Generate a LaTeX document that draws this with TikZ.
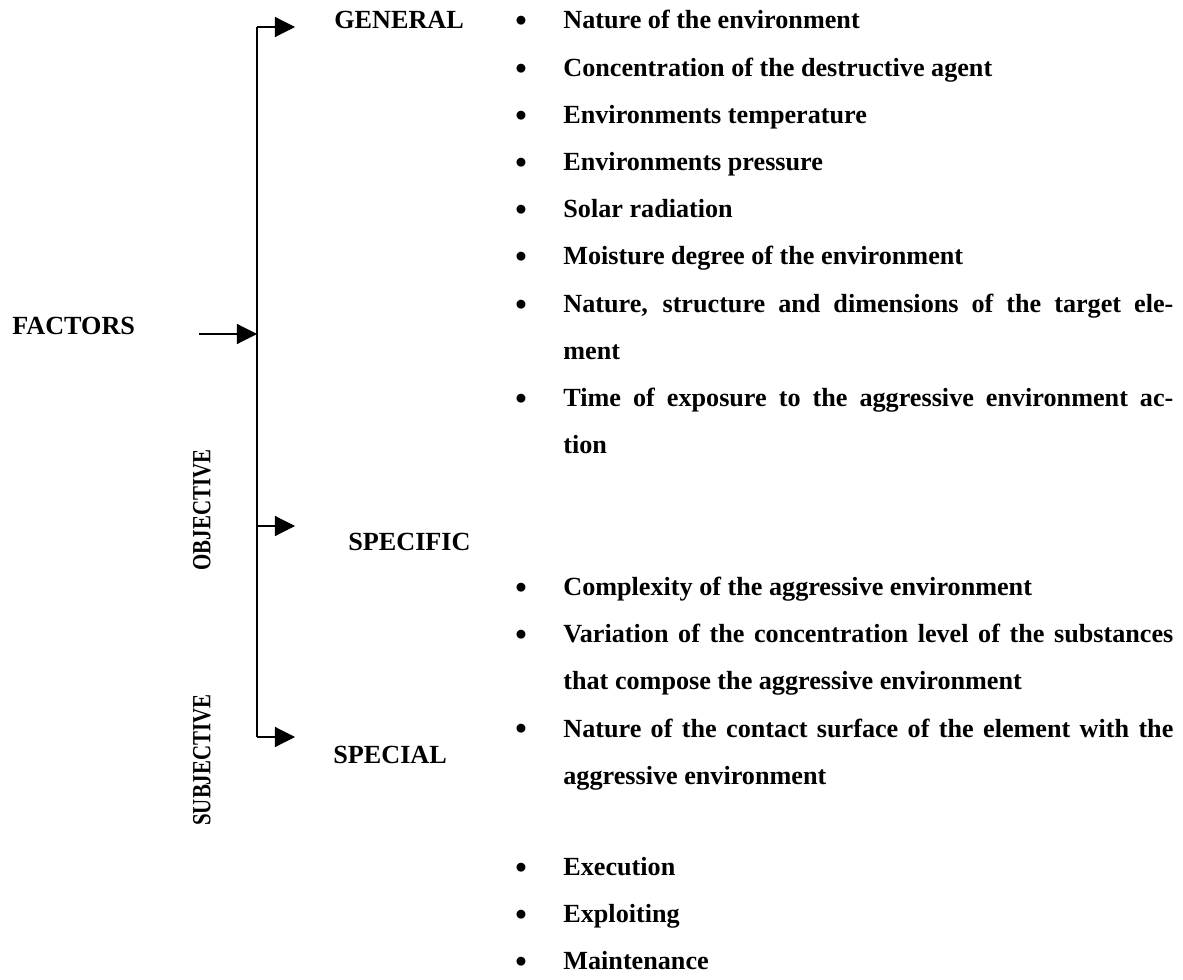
\documentclass[tikz,border=0pt]{standalone}
\usepackage{fontspec}
\setmainfont{Liberation Serif}
\usetikzlibrary{arrows.meta,positioning}

\newcommand{\bul}{\noindent\llap{\raisebox{-1.5pt}{\scalebox{1.25}{\textbullet}}\hspace{19pt}}}

\begin{document}
\begin{tikzpicture}[x=0.01826cm, y=-0.01826cm, font=\bfseries\fontsize{13.6}{24.5}\selectfont]
    \tikzset{>={Triangle[length=10.4pt, width=10.4pt]}}
    \tikzset{
        head/.style = {anchor=base west, inner sep=0},
        side/.style = {rotate=90, inner sep=0},
        item/.style = {anchor=base west, inner sep=0, text width=317pt, align=justify},
        wire/.style = {line width=0.6pt},
    }
    \useasboundingbox (0,0) rectangle (1183,980);

    \node[head] (factors) at (12,335) {FACTORS};
    \node[side] (objective) at (202,510) {\scalebox{0.8}[1]{OBJECTIVE}};
    \node[side] (subjective) at (202,760) {\scalebox{0.8}[1]{SUBJECTIVE}};

    \node[head] (general) at (334,29) {GENERAL};
    \node[head] (specific) at (348,550) {SPECIFIC};
    \node[head] (special) at (333,763) {SPECIAL};

    % the spine and its branches
    \coordinate (spineT) at (257,27);
    \coordinate (spineF) at (257,334);
    \coordinate (spineS) at (257,526);
    \coordinate (spineB) at (257,737);
    \coordinate (factorsOut) at (199,334);
    \draw[wire] (spineT) -- (spineB);
    \draw[wire, ->] (factorsOut) -- (spineF);
    \draw[wire, ->] (spineT) -- ++(38,0) coordinate (toGeneral);
    \draw[wire, ->] (spineS) -- ++(38,0) coordinate (toSpecific);
    \draw[wire, ->] (spineB) -- ++(38,0) coordinate (toSpecial);

    % general factors
    \node[item] (g1) at (563,29) {\bul Nature of the environment};
    \node[item] (g2) at (563,76.2) {\bul Concentration of the destructive agent};
    \node[item] (g3) at (563,123.4) {\bul Environments temperature};
    \node[item] (g4) at (563,170.6) {\bul Environments pressure};
    \node[item] (g5) at (563,217.8) {\bul Solar radiation};
    \node[item] (g6) at (563,265) {\bul Moisture degree of the environment};
    \node[item] (g7) at (563,312.2) {\bul Nature, structure and dimensions of the target ele-\linebreak ment};
    \node[item] (g8) at (563,406.6) {\bul Time of exposure to the aggressive environment ac-\linebreak tion};

    % specific factors
    \node[item] (s1) at (563,595.4) {\bul Complexity of the aggressive environment};
    \node[item] (s2) at (563,642.6) {\bul Variation of the concentration level of the substances\linebreak that compose the aggressive environment};
    \node[item] (s3) at (563,737) {\bul Nature of the contact surface of the element with the\linebreak aggressive environment};

    % special factors
    \node[item] (p1) at (563,875.4) {\bul Execution};
    \node[item] (p2) at (563,922.6) {\bul Exploiting};
    \node[item] (p3) at (563,969.8) {\bul Maintenance};
\end{tikzpicture}
\end{document}
